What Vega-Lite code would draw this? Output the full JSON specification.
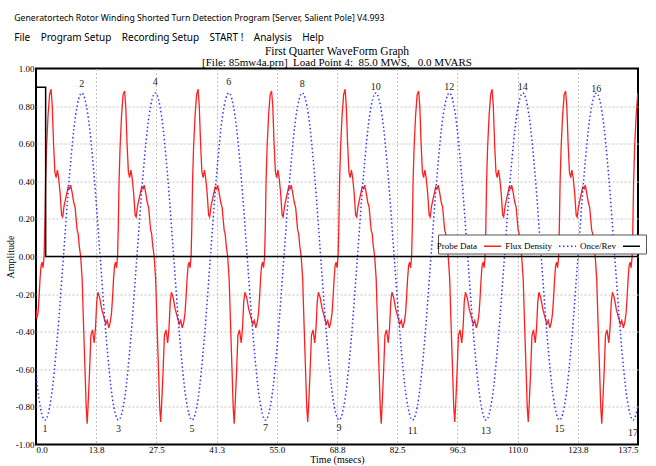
{
  "$schema": "https://vega.github.io/schema/vega-lite/v6.json",
  "background": "white",
  "padding": {"left": 4, "top": 13.5, "right": 1, "bottom": 0},
  "title": {
    "text": "Generatortech Rotor Winding Shorted Turn Detection Program [Server, Salient Pole] V4.993",
    "subtitle": "File\u00a0\u00a0\u00a0 Program Setup\u00a0\u00a0\u00a0 Recording Setup\u00a0\u00a0\u00a0 START !\u00a0\u00a0\u00a0 Analysis\u00a0\u00a0\u00a0 Help",
    "anchor": "start",
    "dx": 10,
    "font": "Noto Sans",
    "fontSize": 8.7,
    "fontWeight": "normal",
    "color": "black",
    "subtitleFont": "Noto Sans",
    "subtitleFontSize": 10,
    "subtitleColor": "black",
    "subtitlePadding": 10,
    "offset": 2
  },
  "datasets": {
    "probe": [
      {"t":0,"v":-0.28,"s":"Probe Data"},{"t":0.17,"v":-0.33,"s":"Probe Data"},
      {"t":0.46,"v":-0.30,"s":"Probe Data"},{"t":0.69,"v":-0.22,"s":"Probe Data"},{"t":0.92,"v":-0.12,"s":"Probe Data"},{"t":1.15,"v":-0.05,"s":"Probe Data"},{"t":1.38,"v":-0.03,"s":"Probe Data"},{"t":1.61,"v":-0.06,"s":"Probe Data"},{"t":1.84,"v":0.0,"s":"Probe Data"},{"t":2.00,"v":0.15,"s":"Probe Data"},{"t":2.18,"v":0.40,"s":"Probe Data"},{"t":2.41,"v":0.58,"s":"Probe Data"},{"t":2.75,"v":0.75,"s":"Probe Data"},{"t":3.10,"v":0.86,"s":"Probe Data"},{"t":3.44,"v":0.89,"s":"Probe Data"},{"t":3.71,"v":0.80,"s":"Probe Data"},{"t":4.01,"v":0.60,"s":"Probe Data"},{"t":4.31,"v":0.45,"s":"Probe Data"},{"t":4.59,"v":0.42,"s":"Probe Data"},{"t":4.88,"v":0.46,"s":"Probe Data"},{"t":5.16,"v":0.42,"s":"Probe Data"},{"t":5.50,"v":0.34,"s":"Probe Data"},{"t":5.85,"v":0.22,"s":"Probe Data"},{"t":6.08,"v":0.21,"s":"Probe Data"},{"t":6.42,"v":0.27,"s":"Probe Data"},{"t":6.88,"v":0.32,"s":"Probe Data"},{"t":7.34,"v":0.37,"s":"Probe Data"},{"t":7.68,"v":0.36,"s":"Probe Data"},{"t":7.91,"v":0.38,"s":"Probe Data"},{"t":8.25,"v":0.34,"s":"Probe Data"},{"t":8.60,"v":0.29,"s":"Probe Data"},{"t":8.94,"v":0.26,"s":"Probe Data"},{"t":9.24,"v":0.18,"s":"Probe Data"},{"t":9.40,"v":0.14,"s":"Probe Data"},{"t":9.63,"v":0.12,"s":"Probe Data"},{"t":9.86,"v":0.06,"s":"Probe Data"},{"t":10.20,"v":0.0,"s":"Probe Data"},{"t":10.54,"v":-0.12,"s":"Probe Data"},{"t":10.84,"v":-0.35,"s":"Probe Data"},{"t":11.12,"v":-0.55,"s":"Probe Data"},{"t":11.46,"v":-0.80,"s":"Probe Data"},{"t":11.69,"v":-0.89,"s":"Probe Data"},{"t":11.92,"v":-0.78,"s":"Probe Data"},{"t":12.22,"v":-0.62,"s":"Probe Data"},{"t":12.54,"v":-0.42,"s":"Probe Data"},{"t":12.90,"v":-0.39,"s":"Probe Data"},{"t":13.29,"v":-0.46,"s":"Probe Data"},{"t":13.59,"v":-0.38,"s":"Probe Data"},{"t":13.87,"v":-0.24,"s":"Probe Data"},{"t":14.14,"v":-0.19,"s":"Probe Data"},{"t":14.55,"v":-0.22,"s":"Probe Data"},{"t":15.01,"v":-0.28,"s":"Probe Data"},{"t":15.47,"v":-0.32,"s":"Probe Data"},{"t":15.93,"v":-0.36,"s":"Probe Data"},{"t":16.27,"v":-0.34,"s":"Probe Data"},{"t":16.62,"v":-0.38,"s":"Probe Data"},{"t":16.96,"v":-0.35,"s":"Probe Data"},
      {"t":17.25,"v":-0.30,"s":"Probe Data"},{"t":17.48,"v":-0.22,"s":"Probe Data"},{"t":17.71,"v":-0.12,"s":"Probe Data"},{"t":17.94,"v":-0.05,"s":"Probe Data"},{"t":18.17,"v":-0.03,"s":"Probe Data"},{"t":18.40,"v":-0.06,"s":"Probe Data"},{"t":18.63,"v":0.0,"s":"Probe Data"},{"t":18.79,"v":0.15,"s":"Probe Data"},{"t":18.97,"v":0.40,"s":"Probe Data"},{"t":19.20,"v":0.58,"s":"Probe Data"},{"t":19.54,"v":0.75,"s":"Probe Data"},{"t":19.89,"v":0.86,"s":"Probe Data"},{"t":20.23,"v":0.88,"s":"Probe Data"},{"t":20.50,"v":0.80,"s":"Probe Data"},{"t":20.80,"v":0.60,"s":"Probe Data"},{"t":21.10,"v":0.45,"s":"Probe Data"},{"t":21.38,"v":0.42,"s":"Probe Data"},{"t":21.67,"v":0.46,"s":"Probe Data"},{"t":21.95,"v":0.42,"s":"Probe Data"},{"t":22.29,"v":0.34,"s":"Probe Data"},{"t":22.64,"v":0.22,"s":"Probe Data"},{"t":22.87,"v":0.21,"s":"Probe Data"},{"t":23.21,"v":0.27,"s":"Probe Data"},{"t":23.67,"v":0.32,"s":"Probe Data"},{"t":24.13,"v":0.37,"s":"Probe Data"},{"t":24.47,"v":0.36,"s":"Probe Data"},{"t":24.70,"v":0.38,"s":"Probe Data"},{"t":25.04,"v":0.34,"s":"Probe Data"},{"t":25.39,"v":0.29,"s":"Probe Data"},{"t":25.73,"v":0.26,"s":"Probe Data"},{"t":26.03,"v":0.18,"s":"Probe Data"},{"t":26.19,"v":0.14,"s":"Probe Data"},{"t":26.42,"v":0.12,"s":"Probe Data"},{"t":26.65,"v":0.06,"s":"Probe Data"},{"t":26.99,"v":0.0,"s":"Probe Data"},{"t":27.33,"v":-0.12,"s":"Probe Data"},{"t":27.63,"v":-0.35,"s":"Probe Data"},{"t":27.91,"v":-0.55,"s":"Probe Data"},{"t":28.25,"v":-0.80,"s":"Probe Data"},{"t":28.48,"v":-0.88,"s":"Probe Data"},{"t":28.71,"v":-0.78,"s":"Probe Data"},{"t":29.01,"v":-0.62,"s":"Probe Data"},{"t":29.33,"v":-0.42,"s":"Probe Data"},{"t":29.69,"v":-0.39,"s":"Probe Data"},{"t":30.08,"v":-0.46,"s":"Probe Data"},{"t":30.38,"v":-0.38,"s":"Probe Data"},{"t":30.66,"v":-0.24,"s":"Probe Data"},{"t":30.93,"v":-0.19,"s":"Probe Data"},{"t":31.34,"v":-0.22,"s":"Probe Data"},{"t":31.80,"v":-0.28,"s":"Probe Data"},{"t":32.26,"v":-0.32,"s":"Probe Data"},{"t":32.72,"v":-0.36,"s":"Probe Data"},{"t":33.06,"v":-0.34,"s":"Probe Data"},{"t":33.41,"v":-0.38,"s":"Probe Data"},{"t":33.75,"v":-0.35,"s":"Probe Data"},
      {"t":34.04,"v":-0.30,"s":"Probe Data"},{"t":34.27,"v":-0.22,"s":"Probe Data"},{"t":34.50,"v":-0.12,"s":"Probe Data"},{"t":34.73,"v":-0.05,"s":"Probe Data"},{"t":34.96,"v":-0.03,"s":"Probe Data"},{"t":35.19,"v":-0.06,"s":"Probe Data"},{"t":35.42,"v":0.0,"s":"Probe Data"},{"t":35.58,"v":0.15,"s":"Probe Data"},{"t":35.76,"v":0.40,"s":"Probe Data"},{"t":35.99,"v":0.58,"s":"Probe Data"},{"t":36.33,"v":0.75,"s":"Probe Data"},{"t":36.68,"v":0.86,"s":"Probe Data"},{"t":37.02,"v":0.89,"s":"Probe Data"},{"t":37.29,"v":0.80,"s":"Probe Data"},{"t":37.59,"v":0.60,"s":"Probe Data"},{"t":37.89,"v":0.45,"s":"Probe Data"},{"t":38.17,"v":0.42,"s":"Probe Data"},{"t":38.46,"v":0.46,"s":"Probe Data"},{"t":38.74,"v":0.42,"s":"Probe Data"},{"t":39.08,"v":0.34,"s":"Probe Data"},{"t":39.43,"v":0.22,"s":"Probe Data"},{"t":39.66,"v":0.21,"s":"Probe Data"},{"t":40.00,"v":0.27,"s":"Probe Data"},{"t":40.46,"v":0.32,"s":"Probe Data"},{"t":40.92,"v":0.37,"s":"Probe Data"},{"t":41.26,"v":0.36,"s":"Probe Data"},{"t":41.49,"v":0.38,"s":"Probe Data"},{"t":41.83,"v":0.34,"s":"Probe Data"},{"t":42.18,"v":0.29,"s":"Probe Data"},{"t":42.52,"v":0.26,"s":"Probe Data"},{"t":42.82,"v":0.18,"s":"Probe Data"},{"t":42.98,"v":0.14,"s":"Probe Data"},{"t":43.21,"v":0.12,"s":"Probe Data"},{"t":43.44,"v":0.06,"s":"Probe Data"},{"t":43.78,"v":0.0,"s":"Probe Data"},{"t":44.12,"v":-0.12,"s":"Probe Data"},{"t":44.42,"v":-0.35,"s":"Probe Data"},{"t":44.70,"v":-0.55,"s":"Probe Data"},{"t":45.04,"v":-0.80,"s":"Probe Data"},{"t":45.27,"v":-0.89,"s":"Probe Data"},{"t":45.50,"v":-0.78,"s":"Probe Data"},{"t":45.80,"v":-0.62,"s":"Probe Data"},{"t":46.12,"v":-0.42,"s":"Probe Data"},{"t":46.48,"v":-0.39,"s":"Probe Data"},{"t":46.87,"v":-0.46,"s":"Probe Data"},{"t":47.17,"v":-0.38,"s":"Probe Data"},{"t":47.45,"v":-0.24,"s":"Probe Data"},{"t":47.72,"v":-0.19,"s":"Probe Data"},{"t":48.13,"v":-0.22,"s":"Probe Data"},{"t":48.59,"v":-0.28,"s":"Probe Data"},{"t":49.05,"v":-0.32,"s":"Probe Data"},{"t":49.51,"v":-0.36,"s":"Probe Data"},{"t":49.85,"v":-0.34,"s":"Probe Data"},{"t":50.20,"v":-0.38,"s":"Probe Data"},{"t":50.54,"v":-0.35,"s":"Probe Data"},
      {"t":50.83,"v":-0.30,"s":"Probe Data"},{"t":51.06,"v":-0.22,"s":"Probe Data"},{"t":51.29,"v":-0.12,"s":"Probe Data"},{"t":51.52,"v":-0.05,"s":"Probe Data"},{"t":51.75,"v":-0.03,"s":"Probe Data"},{"t":51.98,"v":-0.06,"s":"Probe Data"},{"t":52.21,"v":0.0,"s":"Probe Data"},{"t":52.37,"v":0.15,"s":"Probe Data"},{"t":52.55,"v":0.40,"s":"Probe Data"},{"t":52.78,"v":0.58,"s":"Probe Data"},{"t":53.12,"v":0.75,"s":"Probe Data"},{"t":53.47,"v":0.86,"s":"Probe Data"},{"t":53.81,"v":0.88,"s":"Probe Data"},{"t":54.08,"v":0.80,"s":"Probe Data"},{"t":54.38,"v":0.60,"s":"Probe Data"},{"t":54.68,"v":0.45,"s":"Probe Data"},{"t":54.96,"v":0.42,"s":"Probe Data"},{"t":55.25,"v":0.46,"s":"Probe Data"},{"t":55.53,"v":0.42,"s":"Probe Data"},{"t":55.87,"v":0.34,"s":"Probe Data"},{"t":56.22,"v":0.22,"s":"Probe Data"},{"t":56.45,"v":0.21,"s":"Probe Data"},{"t":56.79,"v":0.27,"s":"Probe Data"},{"t":57.25,"v":0.32,"s":"Probe Data"},{"t":57.71,"v":0.37,"s":"Probe Data"},{"t":58.05,"v":0.36,"s":"Probe Data"},{"t":58.28,"v":0.38,"s":"Probe Data"},{"t":58.62,"v":0.34,"s":"Probe Data"},{"t":58.97,"v":0.29,"s":"Probe Data"},{"t":59.31,"v":0.26,"s":"Probe Data"},{"t":59.61,"v":0.18,"s":"Probe Data"},{"t":59.77,"v":0.14,"s":"Probe Data"},{"t":60.00,"v":0.12,"s":"Probe Data"},{"t":60.23,"v":0.06,"s":"Probe Data"},{"t":60.57,"v":0.0,"s":"Probe Data"},{"t":60.91,"v":-0.12,"s":"Probe Data"},{"t":61.21,"v":-0.35,"s":"Probe Data"},{"t":61.49,"v":-0.55,"s":"Probe Data"},{"t":61.83,"v":-0.80,"s":"Probe Data"},{"t":62.06,"v":-0.88,"s":"Probe Data"},{"t":62.29,"v":-0.78,"s":"Probe Data"},{"t":62.59,"v":-0.62,"s":"Probe Data"},{"t":62.91,"v":-0.42,"s":"Probe Data"},{"t":63.27,"v":-0.39,"s":"Probe Data"},{"t":63.66,"v":-0.46,"s":"Probe Data"},{"t":63.96,"v":-0.38,"s":"Probe Data"},{"t":64.24,"v":-0.24,"s":"Probe Data"},{"t":64.51,"v":-0.19,"s":"Probe Data"},{"t":64.92,"v":-0.22,"s":"Probe Data"},{"t":65.38,"v":-0.28,"s":"Probe Data"},{"t":65.84,"v":-0.32,"s":"Probe Data"},{"t":66.30,"v":-0.36,"s":"Probe Data"},{"t":66.64,"v":-0.34,"s":"Probe Data"},{"t":66.99,"v":-0.38,"s":"Probe Data"},{"t":67.33,"v":-0.35,"s":"Probe Data"},
      {"t":67.62,"v":-0.30,"s":"Probe Data"},{"t":67.85,"v":-0.22,"s":"Probe Data"},{"t":68.08,"v":-0.12,"s":"Probe Data"},{"t":68.31,"v":-0.05,"s":"Probe Data"},{"t":68.54,"v":-0.03,"s":"Probe Data"},{"t":68.77,"v":-0.06,"s":"Probe Data"},{"t":69.00,"v":0.0,"s":"Probe Data"},{"t":69.16,"v":0.15,"s":"Probe Data"},{"t":69.34,"v":0.40,"s":"Probe Data"},{"t":69.57,"v":0.58,"s":"Probe Data"},{"t":69.91,"v":0.75,"s":"Probe Data"},{"t":70.26,"v":0.86,"s":"Probe Data"},{"t":70.60,"v":0.89,"s":"Probe Data"},{"t":70.87,"v":0.80,"s":"Probe Data"},{"t":71.17,"v":0.60,"s":"Probe Data"},{"t":71.47,"v":0.45,"s":"Probe Data"},{"t":71.75,"v":0.42,"s":"Probe Data"},{"t":72.04,"v":0.46,"s":"Probe Data"},{"t":72.32,"v":0.42,"s":"Probe Data"},{"t":72.66,"v":0.34,"s":"Probe Data"},{"t":73.01,"v":0.22,"s":"Probe Data"},{"t":73.24,"v":0.21,"s":"Probe Data"},{"t":73.58,"v":0.27,"s":"Probe Data"},{"t":74.04,"v":0.32,"s":"Probe Data"},{"t":74.50,"v":0.37,"s":"Probe Data"},{"t":74.84,"v":0.36,"s":"Probe Data"},{"t":75.07,"v":0.38,"s":"Probe Data"},{"t":75.41,"v":0.34,"s":"Probe Data"},{"t":75.76,"v":0.29,"s":"Probe Data"},{"t":76.10,"v":0.26,"s":"Probe Data"},{"t":76.40,"v":0.18,"s":"Probe Data"},{"t":76.56,"v":0.14,"s":"Probe Data"},{"t":76.79,"v":0.12,"s":"Probe Data"},{"t":77.02,"v":0.06,"s":"Probe Data"},{"t":77.36,"v":0.0,"s":"Probe Data"},{"t":77.70,"v":-0.12,"s":"Probe Data"},{"t":78.00,"v":-0.35,"s":"Probe Data"},{"t":78.28,"v":-0.55,"s":"Probe Data"},{"t":78.62,"v":-0.80,"s":"Probe Data"},{"t":78.85,"v":-0.89,"s":"Probe Data"},{"t":79.08,"v":-0.78,"s":"Probe Data"},{"t":79.38,"v":-0.62,"s":"Probe Data"},{"t":79.70,"v":-0.42,"s":"Probe Data"},{"t":80.06,"v":-0.39,"s":"Probe Data"},{"t":80.45,"v":-0.46,"s":"Probe Data"},{"t":80.75,"v":-0.38,"s":"Probe Data"},{"t":81.03,"v":-0.24,"s":"Probe Data"},{"t":81.30,"v":-0.19,"s":"Probe Data"},{"t":81.71,"v":-0.22,"s":"Probe Data"},{"t":82.17,"v":-0.28,"s":"Probe Data"},{"t":82.63,"v":-0.32,"s":"Probe Data"},{"t":83.09,"v":-0.36,"s":"Probe Data"},{"t":83.43,"v":-0.34,"s":"Probe Data"},{"t":83.78,"v":-0.38,"s":"Probe Data"},{"t":84.12,"v":-0.35,"s":"Probe Data"},
      {"t":84.41,"v":-0.30,"s":"Probe Data"},{"t":84.64,"v":-0.22,"s":"Probe Data"},{"t":84.87,"v":-0.12,"s":"Probe Data"},{"t":85.10,"v":-0.05,"s":"Probe Data"},{"t":85.33,"v":-0.03,"s":"Probe Data"},{"t":85.56,"v":-0.06,"s":"Probe Data"},{"t":85.79,"v":0.0,"s":"Probe Data"},{"t":85.95,"v":0.15,"s":"Probe Data"},{"t":86.13,"v":0.40,"s":"Probe Data"},{"t":86.36,"v":0.58,"s":"Probe Data"},{"t":86.70,"v":0.75,"s":"Probe Data"},{"t":87.05,"v":0.86,"s":"Probe Data"},{"t":87.39,"v":0.88,"s":"Probe Data"},{"t":87.66,"v":0.80,"s":"Probe Data"},{"t":87.96,"v":0.60,"s":"Probe Data"},{"t":88.26,"v":0.45,"s":"Probe Data"},{"t":88.54,"v":0.42,"s":"Probe Data"},{"t":88.83,"v":0.46,"s":"Probe Data"},{"t":89.11,"v":0.42,"s":"Probe Data"},{"t":89.45,"v":0.34,"s":"Probe Data"},{"t":89.80,"v":0.22,"s":"Probe Data"},{"t":90.03,"v":0.21,"s":"Probe Data"},{"t":90.37,"v":0.27,"s":"Probe Data"},{"t":90.83,"v":0.32,"s":"Probe Data"},{"t":91.29,"v":0.37,"s":"Probe Data"},{"t":91.63,"v":0.36,"s":"Probe Data"},{"t":91.86,"v":0.38,"s":"Probe Data"},{"t":92.20,"v":0.34,"s":"Probe Data"},{"t":92.55,"v":0.29,"s":"Probe Data"},{"t":92.89,"v":0.26,"s":"Probe Data"},{"t":93.19,"v":0.18,"s":"Probe Data"},{"t":93.35,"v":0.14,"s":"Probe Data"},{"t":93.58,"v":0.12,"s":"Probe Data"},{"t":93.81,"v":0.06,"s":"Probe Data"},{"t":94.15,"v":0.0,"s":"Probe Data"},{"t":94.49,"v":-0.12,"s":"Probe Data"},{"t":94.79,"v":-0.35,"s":"Probe Data"},{"t":95.07,"v":-0.55,"s":"Probe Data"},{"t":95.41,"v":-0.80,"s":"Probe Data"},{"t":95.64,"v":-0.88,"s":"Probe Data"},{"t":95.87,"v":-0.78,"s":"Probe Data"},{"t":96.17,"v":-0.62,"s":"Probe Data"},{"t":96.49,"v":-0.42,"s":"Probe Data"},{"t":96.85,"v":-0.39,"s":"Probe Data"},{"t":97.24,"v":-0.46,"s":"Probe Data"},{"t":97.54,"v":-0.38,"s":"Probe Data"},{"t":97.82,"v":-0.24,"s":"Probe Data"},{"t":98.09,"v":-0.19,"s":"Probe Data"},{"t":98.50,"v":-0.22,"s":"Probe Data"},{"t":98.96,"v":-0.28,"s":"Probe Data"},{"t":99.42,"v":-0.32,"s":"Probe Data"},{"t":99.88,"v":-0.36,"s":"Probe Data"},{"t":100.22,"v":-0.34,"s":"Probe Data"},{"t":100.57,"v":-0.38,"s":"Probe Data"},{"t":100.91,"v":-0.35,"s":"Probe Data"},
      {"t":101.20,"v":-0.30,"s":"Probe Data"},{"t":101.43,"v":-0.22,"s":"Probe Data"},{"t":101.66,"v":-0.12,"s":"Probe Data"},{"t":101.89,"v":-0.05,"s":"Probe Data"},{"t":102.12,"v":-0.03,"s":"Probe Data"},{"t":102.35,"v":-0.06,"s":"Probe Data"},{"t":102.58,"v":0.0,"s":"Probe Data"},{"t":102.74,"v":0.15,"s":"Probe Data"},{"t":102.92,"v":0.40,"s":"Probe Data"},{"t":103.15,"v":0.58,"s":"Probe Data"},{"t":103.49,"v":0.75,"s":"Probe Data"},{"t":103.84,"v":0.86,"s":"Probe Data"},{"t":104.18,"v":0.89,"s":"Probe Data"},{"t":104.45,"v":0.80,"s":"Probe Data"},{"t":104.75,"v":0.60,"s":"Probe Data"},{"t":105.05,"v":0.45,"s":"Probe Data"},{"t":105.33,"v":0.42,"s":"Probe Data"},{"t":105.62,"v":0.46,"s":"Probe Data"},{"t":105.90,"v":0.42,"s":"Probe Data"},{"t":106.24,"v":0.34,"s":"Probe Data"},{"t":106.59,"v":0.22,"s":"Probe Data"},{"t":106.82,"v":0.21,"s":"Probe Data"},{"t":107.16,"v":0.27,"s":"Probe Data"},{"t":107.62,"v":0.32,"s":"Probe Data"},{"t":108.08,"v":0.37,"s":"Probe Data"},{"t":108.42,"v":0.36,"s":"Probe Data"},{"t":108.65,"v":0.38,"s":"Probe Data"},{"t":108.99,"v":0.34,"s":"Probe Data"},{"t":109.34,"v":0.29,"s":"Probe Data"},{"t":109.68,"v":0.26,"s":"Probe Data"},{"t":109.98,"v":0.18,"s":"Probe Data"},{"t":110.14,"v":0.14,"s":"Probe Data"},{"t":110.37,"v":0.12,"s":"Probe Data"},{"t":110.60,"v":0.06,"s":"Probe Data"},{"t":110.94,"v":0.0,"s":"Probe Data"},{"t":111.28,"v":-0.12,"s":"Probe Data"},{"t":111.58,"v":-0.35,"s":"Probe Data"},{"t":111.86,"v":-0.55,"s":"Probe Data"},{"t":112.20,"v":-0.80,"s":"Probe Data"},{"t":112.43,"v":-0.88,"s":"Probe Data"},{"t":112.66,"v":-0.78,"s":"Probe Data"},{"t":112.96,"v":-0.62,"s":"Probe Data"},{"t":113.28,"v":-0.42,"s":"Probe Data"},{"t":113.64,"v":-0.39,"s":"Probe Data"},{"t":114.03,"v":-0.46,"s":"Probe Data"},{"t":114.33,"v":-0.38,"s":"Probe Data"},{"t":114.61,"v":-0.24,"s":"Probe Data"},{"t":114.88,"v":-0.19,"s":"Probe Data"},{"t":115.29,"v":-0.22,"s":"Probe Data"},{"t":115.75,"v":-0.28,"s":"Probe Data"},{"t":116.21,"v":-0.32,"s":"Probe Data"},{"t":116.67,"v":-0.36,"s":"Probe Data"},{"t":117.01,"v":-0.34,"s":"Probe Data"},{"t":117.36,"v":-0.38,"s":"Probe Data"},{"t":117.70,"v":-0.35,"s":"Probe Data"},
      {"t":117.99,"v":-0.30,"s":"Probe Data"},{"t":118.22,"v":-0.22,"s":"Probe Data"},{"t":118.45,"v":-0.12,"s":"Probe Data"},{"t":118.68,"v":-0.05,"s":"Probe Data"},{"t":118.91,"v":-0.03,"s":"Probe Data"},{"t":119.14,"v":-0.06,"s":"Probe Data"},{"t":119.37,"v":0.0,"s":"Probe Data"},{"t":119.53,"v":0.15,"s":"Probe Data"},{"t":119.71,"v":0.40,"s":"Probe Data"},{"t":119.94,"v":0.58,"s":"Probe Data"},{"t":120.28,"v":0.75,"s":"Probe Data"},{"t":120.63,"v":0.86,"s":"Probe Data"},{"t":120.97,"v":0.88,"s":"Probe Data"},{"t":121.24,"v":0.80,"s":"Probe Data"},{"t":121.54,"v":0.60,"s":"Probe Data"},{"t":121.84,"v":0.45,"s":"Probe Data"},{"t":122.12,"v":0.42,"s":"Probe Data"},{"t":122.41,"v":0.46,"s":"Probe Data"},{"t":122.69,"v":0.42,"s":"Probe Data"},{"t":123.03,"v":0.34,"s":"Probe Data"},{"t":123.38,"v":0.22,"s":"Probe Data"},{"t":123.61,"v":0.21,"s":"Probe Data"},{"t":123.95,"v":0.27,"s":"Probe Data"},{"t":124.41,"v":0.32,"s":"Probe Data"},{"t":124.87,"v":0.37,"s":"Probe Data"},{"t":125.21,"v":0.36,"s":"Probe Data"},{"t":125.44,"v":0.38,"s":"Probe Data"},{"t":125.78,"v":0.34,"s":"Probe Data"},{"t":126.13,"v":0.29,"s":"Probe Data"},{"t":126.47,"v":0.26,"s":"Probe Data"},{"t":126.77,"v":0.18,"s":"Probe Data"},{"t":126.93,"v":0.14,"s":"Probe Data"},{"t":127.16,"v":0.12,"s":"Probe Data"},{"t":127.39,"v":0.06,"s":"Probe Data"},{"t":127.73,"v":0.0,"s":"Probe Data"},{"t":128.07,"v":-0.12,"s":"Probe Data"},{"t":128.37,"v":-0.35,"s":"Probe Data"},{"t":128.65,"v":-0.55,"s":"Probe Data"},{"t":128.99,"v":-0.80,"s":"Probe Data"},{"t":129.22,"v":-0.89,"s":"Probe Data"},{"t":129.45,"v":-0.78,"s":"Probe Data"},{"t":129.75,"v":-0.62,"s":"Probe Data"},{"t":130.07,"v":-0.42,"s":"Probe Data"},{"t":130.43,"v":-0.39,"s":"Probe Data"},{"t":130.82,"v":-0.46,"s":"Probe Data"},{"t":131.12,"v":-0.38,"s":"Probe Data"},{"t":131.40,"v":-0.24,"s":"Probe Data"},{"t":131.67,"v":-0.19,"s":"Probe Data"},{"t":132.08,"v":-0.22,"s":"Probe Data"},{"t":132.54,"v":-0.28,"s":"Probe Data"},{"t":133.00,"v":-0.32,"s":"Probe Data"},{"t":133.46,"v":-0.36,"s":"Probe Data"},{"t":133.80,"v":-0.34,"s":"Probe Data"},{"t":134.15,"v":-0.38,"s":"Probe Data"},{"t":134.49,"v":-0.35,"s":"Probe Data"},
      {"t":134.78,"v":-0.30,"s":"Probe Data"},{"t":135.01,"v":-0.22,"s":"Probe Data"},{"t":135.24,"v":-0.12,"s":"Probe Data"},{"t":135.47,"v":-0.05,"s":"Probe Data"},{"t":135.70,"v":-0.03,"s":"Probe Data"},{"t":135.93,"v":-0.06,"s":"Probe Data"},{"t":136.16,"v":0.0,"s":"Probe Data"},{"t":136.32,"v":0.15,"s":"Probe Data"},{"t":136.50,"v":0.40,"s":"Probe Data"},{"t":136.73,"v":0.58,"s":"Probe Data"},{"t":137.07,"v":0.75,"s":"Probe Data"},{"t":137.42,"v":0.86,"s":"Probe Data"},{"t":137.5,"v":0.87,"s":"Probe Data"}
    ],
    "flux": [
      {"t":0,"v":-0.62,"s":"Flux Density"},{"t":0.66,"v":-0.753,"s":"Flux Density"},
      {"t":2.06,"v":-0.87,"s":"Flux Density"},{"t":3.46,"v":-0.753,"s":"Flux Density"},{"t":4.86,"v":-0.435,"s":"Flux Density"},{"t":6.26,"v":0,"s":"Flux Density"},{"t":7.66,"v":0.435,"s":"Flux Density"},{"t":9.06,"v":0.753,"s":"Flux Density"},{"t":10.46,"v":0.87,"s":"Flux Density"},{"t":11.85,"v":0.753,"s":"Flux Density"},{"t":13.25,"v":0.435,"s":"Flux Density"},{"t":14.65,"v":0,"s":"Flux Density"},{"t":16.05,"v":-0.435,"s":"Flux Density"},{"t":17.45,"v":-0.753,"s":"Flux Density"},
      {"t":18.85,"v":-0.87,"s":"Flux Density"},{"t":20.25,"v":-0.753,"s":"Flux Density"},{"t":21.65,"v":-0.435,"s":"Flux Density"},{"t":23.05,"v":0,"s":"Flux Density"},{"t":24.45,"v":0.435,"s":"Flux Density"},{"t":25.85,"v":0.753,"s":"Flux Density"},{"t":27.25,"v":0.87,"s":"Flux Density"},{"t":28.64,"v":0.753,"s":"Flux Density"},{"t":30.04,"v":0.435,"s":"Flux Density"},{"t":31.44,"v":0,"s":"Flux Density"},{"t":32.84,"v":-0.435,"s":"Flux Density"},{"t":34.24,"v":-0.753,"s":"Flux Density"},
      {"t":35.64,"v":-0.87,"s":"Flux Density"},{"t":37.04,"v":-0.753,"s":"Flux Density"},{"t":38.44,"v":-0.435,"s":"Flux Density"},{"t":39.84,"v":0,"s":"Flux Density"},{"t":41.24,"v":0.435,"s":"Flux Density"},{"t":42.64,"v":0.753,"s":"Flux Density"},{"t":44.04,"v":0.87,"s":"Flux Density"},{"t":45.43,"v":0.753,"s":"Flux Density"},{"t":46.83,"v":0.435,"s":"Flux Density"},{"t":48.23,"v":0,"s":"Flux Density"},{"t":49.63,"v":-0.435,"s":"Flux Density"},{"t":51.03,"v":-0.753,"s":"Flux Density"},
      {"t":52.43,"v":-0.87,"s":"Flux Density"},{"t":53.83,"v":-0.753,"s":"Flux Density"},{"t":55.23,"v":-0.435,"s":"Flux Density"},{"t":56.63,"v":0,"s":"Flux Density"},{"t":58.03,"v":0.435,"s":"Flux Density"},{"t":59.43,"v":0.753,"s":"Flux Density"},{"t":60.83,"v":0.87,"s":"Flux Density"},{"t":62.22,"v":0.753,"s":"Flux Density"},{"t":63.62,"v":0.435,"s":"Flux Density"},{"t":65.02,"v":0,"s":"Flux Density"},{"t":66.42,"v":-0.435,"s":"Flux Density"},{"t":67.82,"v":-0.753,"s":"Flux Density"},
      {"t":69.22,"v":-0.87,"s":"Flux Density"},{"t":70.62,"v":-0.753,"s":"Flux Density"},{"t":72.02,"v":-0.435,"s":"Flux Density"},{"t":73.42,"v":0,"s":"Flux Density"},{"t":74.82,"v":0.435,"s":"Flux Density"},{"t":76.22,"v":0.753,"s":"Flux Density"},{"t":77.62,"v":0.87,"s":"Flux Density"},{"t":79.01,"v":0.753,"s":"Flux Density"},{"t":80.41,"v":0.435,"s":"Flux Density"},{"t":81.81,"v":0,"s":"Flux Density"},{"t":83.21,"v":-0.435,"s":"Flux Density"},{"t":84.61,"v":-0.753,"s":"Flux Density"},
      {"t":86.01,"v":-0.87,"s":"Flux Density"},{"t":87.41,"v":-0.753,"s":"Flux Density"},{"t":88.81,"v":-0.435,"s":"Flux Density"},{"t":90.21,"v":0,"s":"Flux Density"},{"t":91.61,"v":0.435,"s":"Flux Density"},{"t":93.01,"v":0.753,"s":"Flux Density"},{"t":94.41,"v":0.87,"s":"Flux Density"},{"t":95.80,"v":0.753,"s":"Flux Density"},{"t":97.20,"v":0.435,"s":"Flux Density"},{"t":98.60,"v":0,"s":"Flux Density"},{"t":100.00,"v":-0.435,"s":"Flux Density"},{"t":101.40,"v":-0.753,"s":"Flux Density"},
      {"t":102.80,"v":-0.87,"s":"Flux Density"},{"t":104.20,"v":-0.753,"s":"Flux Density"},{"t":105.60,"v":-0.435,"s":"Flux Density"},{"t":107.00,"v":0,"s":"Flux Density"},{"t":108.40,"v":0.435,"s":"Flux Density"},{"t":109.80,"v":0.753,"s":"Flux Density"},{"t":111.20,"v":0.87,"s":"Flux Density"},{"t":112.59,"v":0.753,"s":"Flux Density"},{"t":113.99,"v":0.435,"s":"Flux Density"},{"t":115.39,"v":0,"s":"Flux Density"},{"t":116.79,"v":-0.435,"s":"Flux Density"},{"t":118.19,"v":-0.753,"s":"Flux Density"},
      {"t":119.59,"v":-0.87,"s":"Flux Density"},{"t":120.99,"v":-0.753,"s":"Flux Density"},{"t":122.39,"v":-0.435,"s":"Flux Density"},{"t":123.79,"v":0,"s":"Flux Density"},{"t":125.19,"v":0.435,"s":"Flux Density"},{"t":126.59,"v":0.753,"s":"Flux Density"},{"t":127.99,"v":0.87,"s":"Flux Density"},{"t":129.38,"v":0.753,"s":"Flux Density"},{"t":130.78,"v":0.435,"s":"Flux Density"},{"t":132.18,"v":0,"s":"Flux Density"},{"t":133.58,"v":-0.435,"s":"Flux Density"},{"t":134.98,"v":-0.753,"s":"Flux Density"},
      {"t":136.38,"v":-0.87,"s":"Flux Density"},{"t":137.5,"v":-0.795,"s":"Flux Density"}
    ],
    "rev": [
      {"t":0,"v":0.9,"s":"Once/Rev"},{"t":2.2,"v":0.9,"s":"Once/Rev"},{"t":2.21,"v":0,"s":"Once/Rev"},{"t":137.5,"v":0,"s":"Once/Rev"}
    ],
    "marks": [
      {"t":2.06,"v":-0.92,"n":"1"},{"t":10.46,"v":0.92,"n":"2"},{"t":18.85,"v":-0.92,"n":"3"},{"t":27.25,"v":0.93,"n":"4"},{"t":35.64,"v":-0.92,"n":"5"},{"t":44.04,"v":0.93,"n":"6"},{"t":52.43,"v":-0.91,"n":"7"},{"t":60.83,"v":0.915,"n":"8"},{"t":69.22,"v":-0.91,"n":"9"},{"t":77.62,"v":0.9,"n":"10"},{"t":86.01,"v":-0.93,"n":"11"},{"t":94.41,"v":0.9,"n":"12"},{"t":102.8,"v":-0.93,"n":"13"},{"t":111.2,"v":0.9,"n":"14"},{"t":119.59,"v":-0.915,"n":"15"},{"t":127.99,"v":0.89,"n":"16"},{"t":136.38,"v":-0.94,"n":"17"}
    ]
  },
  "vconcat": [
    {
      "title": {
        "text": "First Quarter WaveForm Graph",
        "subtitle": "[File: 85mw4a.prn]\u00a0 Load Point 4:\u00a0 85.0 MWS,\u00a0\u00a0 0.0 MVARS",
        "anchor": "middle",
        "frame": "group",
        "font": "Liberation Serif",
        "fontSize": 11.5,
        "fontWeight": "normal",
        "color": "black",
        "subtitleFont": "Liberation Serif",
        "subtitleFontSize": 11,
        "subtitleColor": "black",
        "subtitlePadding": 0,
        "offset": -3.5
      },
      "width": 602,
      "height": 376,
      "layer": [
        {
          "data": {"name": "probe"},
          "mark": {"type": "line", "strokeWidth": 1.3, "clip": true},
          "encoding": {
            "x": {"field": "t", "type": "quantitative", "scale": {"domain": [0, 137.5], "nice": false, "zero": false},
              "axis": {"values": [0, 13.75, 27.5, 41.25, 55, 68.75, 82.5, 96.25, 110, 123.75, 137.5], "tickCount": 12, "format": ".1f", "title": "Time (msecs)", "labelOverlap": false, "labelPadding": 1,
                "gridOpacity": {"condition": {"test": "datum.value < 0.1 || datum.value > 137.4", "value": 0}, "value": 1}}},
            "y": {"field": "v", "type": "quantitative", "scale": {"domain": [-1, 1], "nice": false},
              "axis": {"values": [-1, -0.8, -0.6, -0.4, -0.2, 0, 0.2, 0.4, 0.6, 0.8, 1], "tickCount": 12, "labelExpr": "replace(format(datum.value, '.2f'), '\u2212', '-')", "title": "Amplitude", "labelOverlap": false,
                "gridOpacity": {"condition": {"test": "abs(datum.value) > 0.99", "value": 0}, "value": 1}}},
            "color": {"field": "s", "type": "nominal", "title": "\u00a0", "scale": {"domain": ["Probe Data", "Flux Density", "Once/Rev"], "range": ["#ff1f1f", "#3434ff", "#000000"]}},
            "strokeDash": {"field": "s", "type": "nominal", "title": "\u00a0", "scale": {"domain": ["Probe Data", "Flux Density", "Once/Rev"], "range": [[1, 0], [1.5, 2.5], [1, 0]]}}
          }
        },
        {
          "data": {"name": "flux"},
          "mark": {"type": "line", "strokeWidth": 1.5, "interpolate": "monotone", "clip": true},
          "encoding": {
            "x": {"field": "t", "type": "quantitative"},
            "y": {"field": "v", "type": "quantitative"},
            "color": {"field": "s", "type": "nominal", "title": "\u00a0"},
            "strokeDash": {"field": "s", "type": "nominal", "title": "\u00a0"}
          }
        },
        {
          "data": {"name": "rev"},
          "mark": {"type": "line", "strokeWidth": 1.5, "clip": true},
          "encoding": {
            "x": {"field": "t", "type": "quantitative"},
            "y": {"field": "v", "type": "quantitative"},
            "color": {"field": "s", "type": "nominal", "title": "\u00a0"},
            "strokeDash": {"field": "s", "type": "nominal", "title": "\u00a0"}
          }
        },
        {
          "data": {"name": "marks"},
          "mark": {"type": "text", "font": "Liberation Serif", "fontSize": 10, "color": "#222222", "baseline": "middle", "align": "center"},
          "encoding": {
            "x": {"field": "t", "type": "quantitative"},
            "y": {"field": "v", "type": "quantitative"},
            "text": {"field": "n", "type": "nominal"}
          }
        }
      ]
    }
  ],
  "config": {
    "view": {"stroke": "black", "strokeWidth": 2},
    "axis": {
      "labelFont": "Liberation Serif", "labelFontSize": 9, "labelColor": "black", "labelPadding": 2,
      "titleFont": "Liberation Serif", "titleFontSize": 10, "titleFontWeight": "normal", "titleColor": "black", "titlePadding": 0,
      "grid": true, "gridColor": "#c4c4c4", "gridDash": [2, 2], "gridWidth": 1,
      "ticks": false, "domain": false
    },
    "legend": {
      "orient": "none", "legendX": 402, "legendY": 166, "direction": "horizontal",
      "titleOrient": "left", "titleFont": "Liberation Serif", "titleFontSize": 9, "titlePadding": 43,
      "symbolType": "stroke", "symbolSize": 290, "symbolStrokeWidth": 1.5,
      "labelFont": "Liberation Serif", "labelFontSize": 9, "labelColor": "black",
      "labelAlign": "right", "labelOffset": -25, "columnPadding": 0,
      "padding": 2, "fillColor": "white", "strokeColor": "#555555", "strokeWidth": 1
    }
  }
}
